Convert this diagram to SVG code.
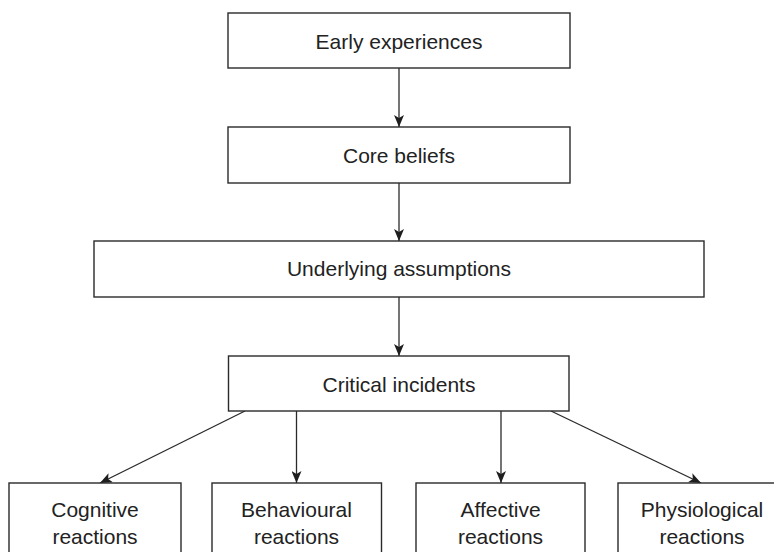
<svg xmlns="http://www.w3.org/2000/svg" width="774" height="552" viewBox="0 0 774 552">
  <style>
    .box { fill: #ffffff; stroke: #2a2a2a; stroke-width: 1.4; }
    .lbl { font-family: "Liberation Sans", Arial, sans-serif; font-size: 21px; fill: #222222; text-anchor: middle; }
    .edge { stroke: #2a2a2a; stroke-width: 1.3; fill: none; marker-end: url(#arrow); }
  </style>
  <defs>
    <marker id="arrow" viewBox="0 0 12 10" refX="12" refY="5" markerWidth="12" markerHeight="10" markerUnits="userSpaceOnUse" orient="auto">
      <path d="M0,0 L12,5 L0,10 L3,5 Z" fill="#1e1e1e"/>
    </marker>
  </defs>
  <rect width="774" height="552" fill="#ffffff"/>

  <g id="connectors">
    <line class="edge" x1="399" y1="68" x2="399" y2="127"/>
    <line class="edge" x1="399" y1="183" x2="399" y2="241"/>
    <line class="edge" x1="399" y1="297" x2="399" y2="356"/>
    <line class="edge" x1="245" y1="411" x2="100" y2="483"/>
    <line class="edge" x1="296.5" y1="411" x2="296.5" y2="483"/>
    <line class="edge" x1="501" y1="411" x2="501" y2="483"/>
    <line class="edge" x1="551" y1="411" x2="701" y2="483"/>
  </g>

  <g id="early-experiences">
    <rect class="box" x="228" y="13" width="342" height="55"/>
    <text class="lbl" x="399" y="49">Early experiences</text>
  </g>
  <g id="core-beliefs">
    <rect class="box" x="228" y="127" width="342" height="56"/>
    <text class="lbl" x="399" y="163">Core beliefs</text>
  </g>
  <g id="underlying-assumptions">
    <rect class="box" x="94" y="241" width="610" height="56"/>
    <text class="lbl" x="399" y="276">Underlying assumptions</text>
  </g>
  <g id="critical-incidents">
    <rect class="box" x="228.5" y="356" width="340.5" height="55"/>
    <text class="lbl" x="399" y="391.5">Critical incidents</text>
  </g>
  <g id="cognitive-reactions">
    <rect class="box" x="9" y="483" width="172" height="80"/>
    <text class="lbl" x="95" y="517">Cognitive</text>
    <text class="lbl" x="95" y="544">reactions</text>
  </g>
  <g id="behavioural-reactions">
    <rect class="box" x="212" y="483" width="169.5" height="80"/>
    <text class="lbl" x="296.5" y="517">Behavioural</text>
    <text class="lbl" x="296.5" y="544">reactions</text>
  </g>
  <g id="affective-reactions">
    <rect class="box" x="416" y="483" width="169" height="80"/>
    <text class="lbl" x="500.5" y="517">Affective</text>
    <text class="lbl" x="500.5" y="544">reactions</text>
  </g>
  <g id="physiological-reactions">
    <rect class="box" x="618" y="483" width="170" height="80"/>
    <text class="lbl" x="702" y="517">Physiological</text>
    <text class="lbl" x="702" y="544">reactions</text>
  </g>
</svg>
